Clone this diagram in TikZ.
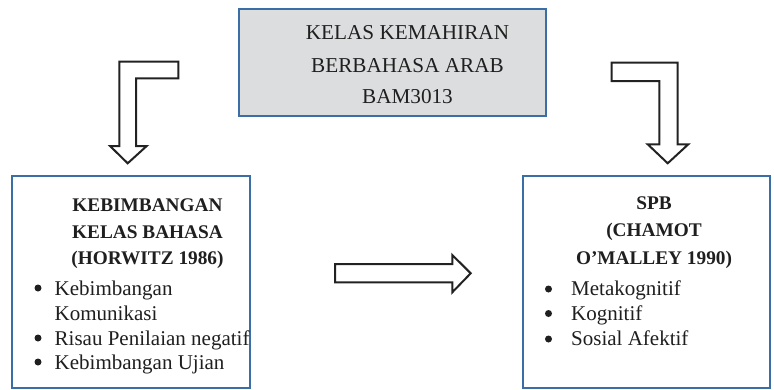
\documentclass[tikz,border=0pt]{standalone}
\usepackage{fontspec}
\setmainfont{Liberation Serif}
\definecolor{boxblue}{HTML}{3C6EA6}
\definecolor{boxgray}{HTML}{DCDDDF}
\definecolor{arrowink}{HTML}{222222}
\begin{document}
\begin{tikzpicture}[x=1pt,y=-1pt,
  box/.style={draw=boxblue,line width=2pt,fill=white,rectangle,inner sep=0pt},
  topbox/.style={box,fill=boxgray},
  tline/.style={anchor=base,inner sep=0pt,text=black!88,font=\fontsize{21.2}{24}\selectfont},
  hline/.style={anchor=base,inner sep=0pt,text=black!88,font=\fontsize{19.3}{24}\selectfont\bfseries},
  bline/.style={anchor=base west,inner sep=0pt,text=black!88,font=\fontsize{21}{24}\selectfont},
  bullet/.style={circle,fill=black!88,inner sep=0pt,minimum size=7pt},
  blockarrow/.style={draw=arrowink,line width=2pt,fill=white,line join=miter}
]
\useasboundingbox (0,0) rectangle (774,389);
% boxes
\node[topbox,minimum width=307pt,minimum height=107pt] (top) at (392.5,62.5) {};
\node[box,minimum width=238pt,minimum height=212pt] (left) at (131,281.5) {};
\node[box,minimum width=247pt,minimum height=212pt] (right) at (646.5,281.5) {};
% top text
\node[tline] (t1) at (407.5,39.5) {KELAS KEMAHIRAN};
\node[tline] (t2) at (407.5,72) {BERBAHASA ARAB};
\node[tline] (t3) at (407.5,103) {BAM3013};
% left text
\node[hline] (l1) at (147.5,211.5) {KEBIMBANGAN};
\node[hline] (l2) at (147.5,238) {KELAS BAHASA};
\node[hline] (l3) at (147.5,264.5) {(HORWITZ 1986)};
\node[bullet] (lb1) at (38,288) {};
\node[bline] (l4) at (54.5,295) {Kebimbangan};
\node[bline] (l5) at (54.5,320.5) {Komunikasi};
\node[bullet] (lb2) at (38,338) {};
\node[bline] (l6) at (54.5,345) {Risau Penilaian negatif};
\node[bullet] (lb3) at (38,362) {};
\node[bline] (l7) at (54.5,369) {Kebimbangan Ujian};
% right text
\node[hline] (r1) at (654,209.5) {SPB};
\node[hline] (r2) at (654,236.5) {(CHAMOT};
\node[hline] (r3) at (654,264.5) {O’MALLEY 1990)};
\node[bullet] (rb1) at (548.5,289) {};
\node[bline] (r4) at (571,295) {Metakognitif};
\node[bullet] (rb2) at (548.5,313.5) {};
\node[bline] (r5) at (571,320) {Kognitif};
\node[bullet] (rb3) at (548.5,339) {};
\node[bline] (r6) at (571,345) {Sosial Afektif};
% left bent block arrow
\draw[blockarrow] (119.3,61.7) -- (178.3,61.7) -- (178.3,78.3) -- (136,78.3) -- (136,146)
  -- (146.7,146) -- (127.7,163.3) -- (110,146) -- (119.3,146) -- cycle;
% right bent block arrow
\draw[blockarrow] (611.7,62.7) -- (677.7,62.7) -- (677.7,144.3) -- (688.3,144.3)
  -- (667.7,163.3) -- (647.7,144.3) -- (659.3,144.3) -- (659.3,81) -- (611.7,81) -- cycle;
% horizontal block arrow
\draw[blockarrow] (335,264) -- (452.3,264) -- (452.3,255) -- (470.7,273.3) -- (452.3,292.3)
  -- (452.3,282.3) -- (335,282.3) -- cycle;
\end{tikzpicture}
\end{document}
